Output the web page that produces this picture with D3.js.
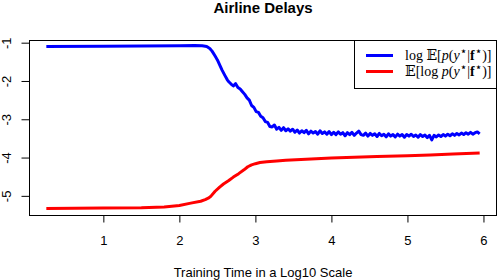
<!DOCTYPE html>
<html>
<head>
<meta charset="utf-8">
<script src="https://cdn.jsdelivr.net/npm/d3@7"></script>
<style>
    body { margin: 0; background: #fff; }
    svg { display: block; }
    text { font-family: "Liberation Sans", Arial, sans-serif; fill: #000; }
    .legend-text { font-family: "Liberation Serif", "DejaVu Serif", serif; }
</style>
</head>
<body>
<div id="chart"></div>
<script>
// Smooth parts of the curves, [log10 time, value]
const blueHead = [
    [0.25, -1.10], [1.0, -1.09], [1.5, -1.085], [2.0, -1.08], [2.2, -1.075],
    [2.3, -1.08], [2.36, -1.10], [2.40, -1.15], [2.43, -1.22], [2.47, -1.35],
    [2.50, -1.45], [2.56, -1.71], [2.60, -1.86], [2.63, -1.97]
];

// Noisy tail of the blue curve, sampled every 0.03 from 2.65
const blueTailStart = 2.65;
const blueTailStep = 0.03;
const blueTail = [
    -2.02, -2.08, -2.13, -2.07, -2.17, -2.21, -2.28, -2.35, -2.44, -2.50,
    -2.64, -2.69, -2.80, -2.82, -2.92, -2.96, -3.06, -3.08, -3.19, -3.20,
    -3.15, -3.26, -3.21, -3.29, -3.22, -3.30, -3.25, -3.31, -3.26, -3.34,
    -3.28, -3.36, -3.30, -3.35, -3.29, -3.38, -3.31, -3.36, -3.32, -3.39,
    -3.30, -3.37, -3.33, -3.39, -3.32, -3.40, -3.34, -3.40, -3.33, -3.39,
    -3.35, -3.43, -3.35, -3.40, -3.34, -3.42, -3.36, -3.31, -3.40, -3.42,
    -3.36, -3.44, -3.37, -3.42, -3.38, -3.45, -3.37, -3.43, -3.39, -3.46,
    -3.38, -3.44, -3.40, -3.46, -3.39, -3.44, -3.40, -3.47, -3.40, -3.44,
    -3.39, -3.45, -3.41, -3.47, -3.40, -3.45, -3.41, -3.48, -3.42, -3.54,
    -3.42, -3.46, -3.41, -3.45, -3.40, -3.44, -3.39, -3.43, -3.38, -3.42,
    -3.37, -3.41, -3.36, -3.40, -3.35, -3.39, -3.34, -3.39, -3.35, -3.33,
    -3.38
];

const redSeries = [
    [0.25, -5.33], [1.0, -5.32], [1.5, -5.31], [1.8, -5.29], [2.0, -5.25],
    [2.15, -5.19], [2.28, -5.14], [2.34, -5.10], [2.38, -5.06], [2.41, -5.02],
    [2.47, -4.88], [2.53, -4.77], [2.58, -4.69], [2.65, -4.60], [2.71, -4.51],
    [2.78, -4.42], [2.85, -4.32], [2.90, -4.24], [2.95, -4.19], [3.0, -4.16],
    [3.06, -4.13], [3.15, -4.11], [3.28, -4.09], [3.4, -4.07], [3.6, -4.05],
    [3.8, -4.03], [4.0, -4.01], [4.3, -3.99], [4.6, -3.97], [5.0, -3.95],
    [5.3, -3.93], [5.6, -3.91], [5.95, -3.88]
];

const xTicks = [1, 2, 3, 4, 5, 6];
const yTicks = [-5, -4, -3, -2, -1];

const width = 498, height = 280;
const margin = { top: 40, right: 1, bottom: 65, left: 29 };

const blueSeries = blueHead.concat(blueTail.map((v, i) => [blueTailStart + i * blueTailStep, v]));

const svg = d3.select('#chart')
    .append('svg')
    .attr('width', width)
    .attr('height', height);

const x = d3.scaleLinear()
    .domain([0.022, 6.178])
    .range([margin.left, width - margin.right]);

const y = d3.scaleLinear()
    .domain([-5.5, -0.93])
    .range([height - margin.bottom, margin.top]);

// Lines
const line = d3.line()
    .x(d => x(d[0]))
    .y(d => y(d[1]));

svg.append('path')
    .datum(redSeries)
    .attr('fill', 'none')
    .attr('stroke', '#ff0000')
    .attr('stroke-width', 3)
    .attr('stroke-linejoin', 'round')
    .attr('d', line);

svg.append('path')
    .datum(blueSeries)
    .attr('fill', 'none')
    .attr('stroke', '#0000ff')
    .attr('stroke-width', 3)
    .attr('stroke-linejoin', 'round')
    .attr('d', line);

// Box around the plot
svg.append('rect')
    .attr('x', margin.left + 0.5)
    .attr('y', margin.top + 0.5)
    .attr('width', width - margin.left - margin.right - 1)
    .attr('height', height - margin.top - margin.bottom)
    .attr('fill', 'none')
    .attr('stroke', '#000')
    .attr('stroke-width', 1);

// Axes (R style: ticks outside, no domain line)
const xAxis = svg.append('g')
    .attr('transform', `translate(0,${height - margin.bottom + 0.5})`)
    .call(d3.axisBottom(x).tickValues(xTicks).tickSize(7).tickPadding(13).tickFormat(d3.format('d')));
xAxis.select('.domain').remove();
xAxis.selectAll('text').style('font-size', '13px').style('font-family', '"Liberation Sans", Arial, sans-serif');

const yAxis = svg.append('g')
    .attr('transform', `translate(${margin.left + 0.5},0)`)
    .call(d3.axisLeft(y).tickValues(yTicks).tickSize(8).tickFormat(d => String(d)));
yAxis.select('.domain').remove();
yAxis.selectAll('text')
    .style('font-size', '13px')
    .style('font-family', '"Liberation Sans", Arial, sans-serif')
    .attr('text-anchor', 'middle')
    .attr('x', 0)
    .attr('y', 0)
    .attr('dy', 0)
    .attr('transform', 'translate(-19,0) rotate(-90)');

// Title and axis label
svg.append('text')
    .attr('x', (margin.left + width - margin.right) / 2)
    .attr('y', 13)
    .attr('text-anchor', 'middle')
    .style('font-size', '15px')
    .style('font-weight', 'bold')
    .text('Airline Delays');

svg.append('text')
    .attr('x', (margin.left + width - margin.right) / 2)
    .attr('y', 277)
    .attr('text-anchor', 'middle')
    .style('font-size', '13px')
    .text('Training Time in a Log10 Scale');

// Legend
const legend = svg.append('g');
legend.append('rect')
    .attr('x', 354.5)
    .attr('y', margin.top + 0.5)
    .attr('width', width - margin.right - 355)
    .attr('height', 48)
    .attr('fill', '#fff')
    .attr('stroke', '#000');

const legendItems = [
    { color: '#0000ff', parts: [['log ', ''], ['𝔼', ''], ['[', ''], ['p', 'i'], ['(', ''], ['y', 'i'], ['⋆', 's'], ['|', ''], ['f', 'b'], ['⋆', 's'], [')]', '']] },
    { color: '#ff0000', parts: [['𝔼', ''], ['[log ', ''], ['p', 'i'], ['(', ''], ['y', 'i'], ['⋆', 's'], ['|', ''], ['f', 'b'], ['⋆', 's'], [')]', '']] }
];

legendItems.forEach((item, i) => {
    const ly = 55.5 + i * 16;
    legend.append('line')
        .attr('x1', 366).attr('x2', 393)
        .attr('y1', ly).attr('y2', ly)
        .attr('stroke', item.color)
        .attr('stroke-width', 3);
    const t = legend.append('text')
        .attr('class', 'legend-text')
        .attr('x', 405)
        .attr('y', ly + 4.5)
        .style('font-size', '14px');
    let raised = false;
    item.parts.forEach(([s, kind]) => {
        const ts = t.append('tspan').text(s);
        if (kind === 'i') ts.style('font-style', 'italic');
        if (kind === 'b') ts.style('font-weight', 'bold');
        if (kind === 's') {
            ts.attr('dy', -5).style('font-size', '12px').style('font-family', '"DejaVu Sans", sans-serif');
            raised = true;
        } else if (raised) {
            ts.attr('dy', 5);
            raised = false;
        }
    });
});
</script>
</body>
</html>
